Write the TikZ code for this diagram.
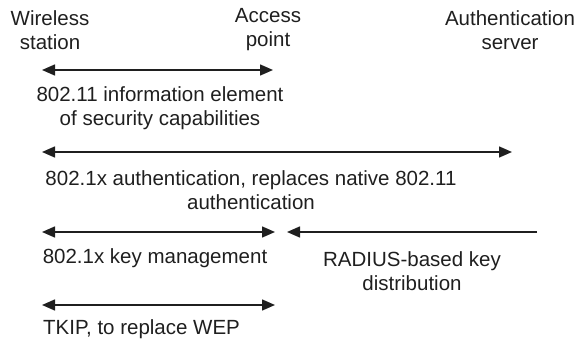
\documentclass[tikz,border=0pt]{standalone}
\usepackage{fontspec}
\setmainfont{Liberation Sans}
\usetikzlibrary{arrows.meta}
\begin{document}
\begin{tikzpicture}[x=1pt,y=-1pt,
  lbl/.style={font=\fontsize{20.5}{24}\selectfont, align=center, inner sep=0pt, text=black!88},
  link/.style={line width=1.5pt, black!88, {Triangle[length=13pt,width=11pt]}-{Triangle[length=13pt,width=11pt]}},
  onelink/.style={line width=1.5pt, black!88, -{Triangle[length=13pt,width=11pt]}}]
\useasboundingbox (0,0) rectangle (578,342);
\node[lbl] (ws) at (50,30) {Wireless\\station};
\node[lbl] (ap) at (268,30) {Access\\point};
\node[lbl] (as) at (510,30) {Authentication\\server};

\coordinate (a1l) at (42,70);  \coordinate (a1r) at (273,70);
\draw[link] (a1l) -- (a1r);
\node[lbl] (t1) at (160,108) {802.11 information element\\of security capabilities};

\coordinate (a2l) at (42,152); \coordinate (a2r) at (512,152);
\draw[link] (a2l) -- (a2r);
\node[lbl] (t2) at (251,190) {802.1x authentication, replaces native 802.11\\authentication};

\coordinate (a3l) at (42,232); \coordinate (a3r) at (275,232);
\draw[link] (a3l) -- (a3r);
\coordinate (a3s) at (537,232); \coordinate (a3e) at (287,232);
\draw[onelink] (a3s) -- (a3e);
\node[lbl] (t3) at (155,258) {802.1x key management};
\node[lbl] (t3b) at (412,271) {RADIUS-based key\\distribution};

\coordinate (a4l) at (42,305); \coordinate (a4r) at (275,305);
\draw[link] (a4l) -- (a4r);
\node[lbl,anchor=west] (t4) at (43,329) {TKIP, to replace WEP};
\end{tikzpicture}
\end{document}
